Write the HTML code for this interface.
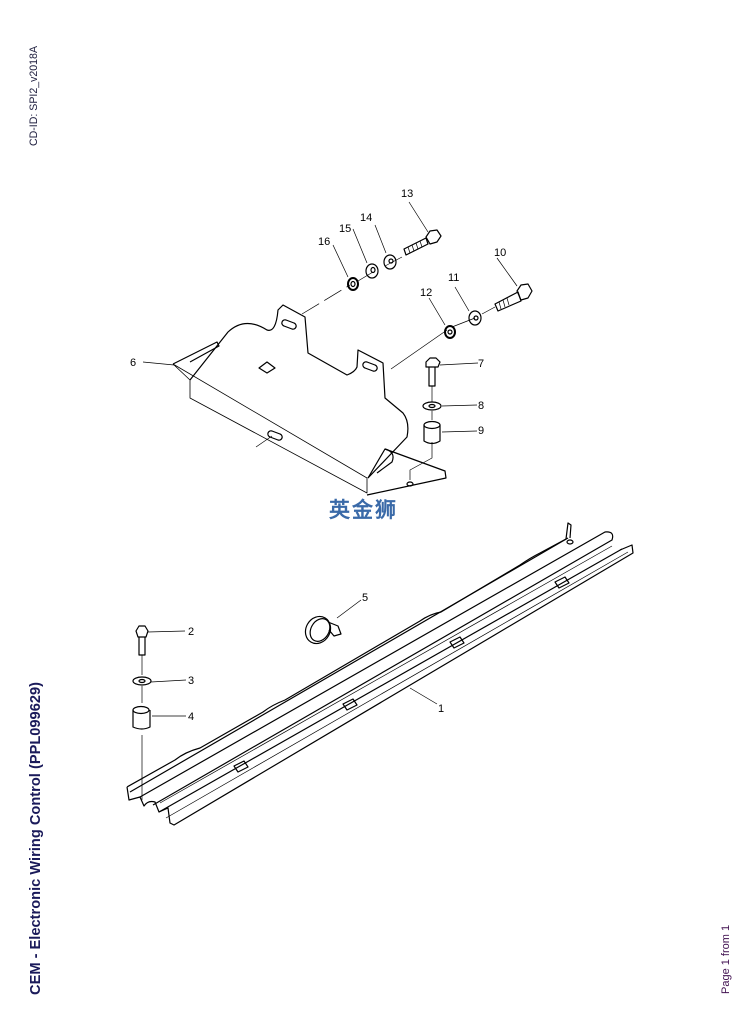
<!DOCTYPE html>
<html><head><meta charset="utf-8"><style>
html,body{margin:0;padding:0;background:#fff;}
svg{display:block;}
text{font-family:"Liberation Sans",sans-serif;}
</style></head><body>
<svg width="754" height="1019" viewBox="0 0 754 1019" xmlns="http://www.w3.org/2000/svg">
<text transform="translate(37,146) rotate(-90)" font-size="11" fill="#202040" textLength="100" lengthAdjust="spacingAndGlyphs">CD-ID: SPI2_v2018A</text>
<text transform="translate(40,995) rotate(-90)" font-size="15" font-weight="bold" fill="#1a1a5a" textLength="313" lengthAdjust="spacingAndGlyphs">CEM - Electronic Wiring Control (PPL099629)</text>
<text transform="translate(729,994) rotate(-90)" font-size="11" fill="#401050">Page 1 from 1</text>

<g fill="none" stroke="#000" stroke-width="1.2" stroke-linejoin="round">
<!-- bracket part 6 -->
<path d="M173,364 L217,342 L219,346 L190,362" />
<path d="M173,364 L190,380 L190,398 L367,493 L367,478 L173,364" stroke-width="0.8"/>
<path d="M190,380 L228,332 Q245,316 267,330 Q276,333 278,310 L283,305 L305,317 L308,353 L347,375 Q355,372 357,367 L358,350 L383,363 L385,398 L403,413 Q410,422 407,437 L368,478"/>
<path d="M385,449 L445,471 L446,478 L367,495"/>
<path d="M368,478 L385,449 Q396,452 392,462 L377,473"/>
<path d="M286,320 l8,3 a3,3 0 0 1 -2,6 l-8,-3 a3,3 0 0 1 2,-6z"/>
<path d="M367,362 l8,3 a3,3 0 0 1 -2,6 l-8,-3 a3,3 0 0 1 2,-6z"/>
<path d="M272,431 l8,3 a3,3 0 0 1 -2,6 l-8,-3 a3,3 0 0 1 2,-6z"/>
<path d="M259,368 l8,-6 l8,6 l-8,5z"/>
<ellipse cx="410" cy="484" rx="3" ry="2"/>
<path d="M302,314 L350,285 M358,281 L373,272 M385,266 L402,257" stroke-width="0.7" stroke-dasharray="20,6"/>
<path d="M391,369 L447,330 M452,327 L475,318 M482,314 L495,307" stroke-width="0.7"/>
<path d="M432,442 L432,458 L410,470 L410,480" stroke-width="0.7"/>
<path d="M256,447 L272,436" stroke-width="0.7"/>
<!-- washers -->
<ellipse cx="353" cy="284" rx="5" ry="6" stroke-width="2"/><ellipse cx="353" cy="284" rx="2" ry="2.5"/>
<ellipse cx="372" cy="271" rx="6" ry="7"/><ellipse cx="373" cy="270" rx="2" ry="2.5"/>
<ellipse cx="390" cy="262" rx="6" ry="7"/><ellipse cx="391" cy="261" rx="2" ry="2"/>
<!-- 13 bolt -->
<path d="M404,249 L426,238 L428,244 L406,255z"/>
<path d="M408,247 l2,6 M412,245 l2,6 M416,243 l2,6 M420,241 l2,6" stroke-width="0.7"/>
<path d="M426,237 L430,231 L437,230 L441,236 L437,242 L430,244z"/>
<!-- 12 11 -->
<ellipse cx="450" cy="332" rx="5" ry="6" stroke-width="2"/><ellipse cx="450" cy="332" rx="2" ry="2"/>
<ellipse cx="475" cy="318" rx="6" ry="7"/><ellipse cx="476" cy="318" rx="2" ry="2"/>
<!-- 10 bolt -->
<path d="M495,304 L518,292 L521,301 L498,311z"/>
<path d="M499,302 l2,7 M503,300 l2,7 M507,298 l2,7" stroke-width="0.7"/>
<path d="M517,291 L521,285 L528,284 L532,291 L528,298 L521,300z"/>
<!-- 7 8 9 -->
<path d="M426,362 L430,358 L436,358 L440,362 L438,367 L426,367z"/>
<path d="M429,367 L429,386 L435,386 L435,367"/>
<path d="M432,386 L432,402" stroke-width="0.7"/>
<ellipse cx="432" cy="406" rx="9" ry="4"/><ellipse cx="432" cy="406" rx="3" ry="1.5"/>
<path d="M432,411 L432,420" stroke-width="0.7"/>
<path d="M424,425 L424,441 Q432,446 440,441 L440,425"/><ellipse cx="432" cy="425" rx="8" ry="3.5"/>
<path d="M409,202 L428,232 M375,225 L386,253 M353,229 L367,263 M333,245 L348,277 M497,258 L517,286 M455,287 L469,311 M429,298 L445,325 M143,362 L174,365 M440,365 L478,363 M442,406 L477,405 M442,432 L477,431" stroke-width="0.7"/>

<!-- rail part 1 -->
<path d="M127,787 L175,760 Q185,752 200,748 L263,712 Q272,705 285,700 L420,621 Q430,614 441,612 L520,565 Q530,558 540,553 L566,539 L568,523 L571,525 L570,538"/>
<path d="M127,787 L129,800 L140,797 L144,806 Q148,800 155,802 L159,812 L168,808 L170,823 L174,825 L633,553 L632,545 L620,550"/>
<path d="M140,797 L605,532 Q615,531 612,540 L153,805"/>
<path d="M159,812 L622,549"/>
<path d="M130,792 L568,538"/>
<path d="M160,803 L612,546" stroke-width="0.7"/>
<path d="M166,818 L628,552" stroke-width="0.7"/>
<path d="M234,766 l10,-5 l4,6 l-10,5z"/>
<path d="M343,704 l10,-5 l4,6 l-10,5z"/>
<path d="M450,642 l10,-5 l4,6 l-10,5z"/>
<path d="M555,582 l10,-5 l4,6 l-10,5z"/>
<ellipse cx="570" cy="542" rx="3" ry="2"/>
<!-- 5 clamp -->
<ellipse cx="318" cy="630" rx="12" ry="14" transform="rotate(30 318 630)"/>
<ellipse cx="320" cy="630" rx="9" ry="12" transform="rotate(30 320 630)"/>
<path d="M328,622 L338,626 L341,634 L334,636 L329,630"/>
<!-- 2 3 4 -->
<path d="M136,631 L139,626 L145,626 L148,631 L146,637 L138,637z"/>
<path d="M139,637 L139,655 L145,655 L145,637"/>
<path d="M142,655 L142,675" stroke-width="0.7"/>
<ellipse cx="142" cy="681" rx="9" ry="4"/><ellipse cx="142" cy="681" rx="3" ry="1.5"/>
<path d="M142,686 L142,703" stroke-width="0.7"/>
<path d="M133,710 L133,727 Q142,731 150,727 L150,710"/><ellipse cx="141" cy="710" rx="8" ry="3.5"/>
<path d="M142,735 L142,800" stroke-width="0.7"/>
<path d="M148,632 L185,631 M151,682 L186,680 M152,716 L186,716 M337,618 L361,600 M410,688 L437,704" stroke-width="0.7"/>
</g>

<g font-size="11" fill="#000">
<text x="401" y="197">13</text><text x="360" y="221">14</text><text x="339" y="232">15</text><text x="318" y="245">16</text>
<text x="494" y="256">10</text><text x="448" y="281">11</text><text x="420" y="296">12</text>
<text x="130" y="366">6</text><text x="478" y="367">7</text><text x="478" y="409">8</text><text x="478" y="434">9</text>
<text x="188" y="635">2</text><text x="188" y="684">3</text><text x="188" y="720">4</text><text x="362" y="601">5</text><text x="438" y="712">1</text>
</g>
<text x="329" y="517" font-size="21" font-weight="bold" fill="#3a6aa8" font-family="'Liberation Sans','Noto Sans CJK SC',sans-serif" letter-spacing="2">英金狮</text>
</svg>
</body></html>
